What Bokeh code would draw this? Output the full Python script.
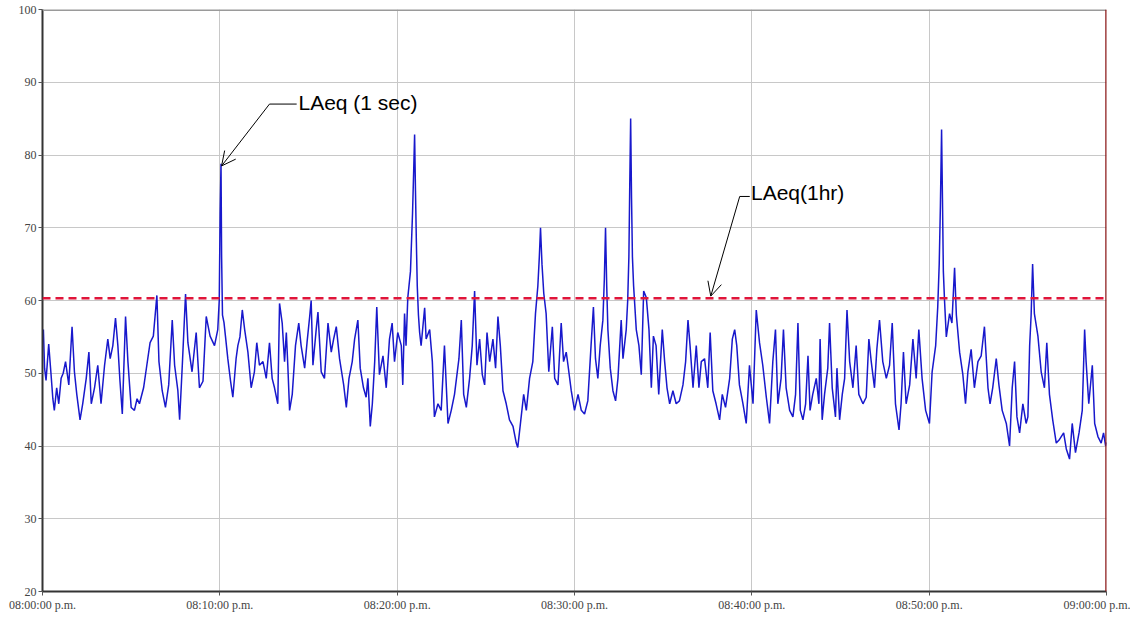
from bokeh.plotting import figure
from bokeh.models import Range1d, FixedTicker, Span, Arrow, OpenHead, Label
from bokeh.embed import file_html
from bokeh.resources import INLINE

# ---- data (seconds after 08:00:00 p.m., dB) ----
t_sec = [0, 3, 7, 12, 21, 29, 35, 40, 48, 55, 63, 70, 78, 89, 100, 108, 116, 127, 136, 148, 157, 165, 176, 187, 198, 210, 221, 229, 238, 247, 255, 262, 270, 281, 289, 300, 311, 320, 328, 342, 353, 364, 375, 387, 394, 405, 416, 427, 439, 447, 458, 464, 473, 484, 492, 506, 520, 531, 543, 554, 567, 582, 593, 598, 601, 604, 606, 609,
         614, 619, 627, 636, 644, 655, 661, 668, 676, 684, 695, 706, 717, 725, 734, 746, 757, 768, 777, 785, 796, 802, 811, 819, 825, 830, 836, 845, 856, 867, 875, 887, 895, 904, 909, 915, 926, 932, 943, 954, 966, 977, 985, 994, 1005, 1019, 1028, 1037, 1048, 1056, 1067, 1075, 1086, 1095, 1101, 1109, 1116, 1124, 1131, 1140, 1152, 1163, 1174, 1183, 1191, 1202, 1214, 1219, 1225, 1230, 1236, 1245, 1252, 1256, 1259, 1262, 1265, 1268, 1272, 1276,
         1281, 1293, 1298, 1310, 1319, 1326, 1338, 1349, 1360, 1372, 1383, 1394, 1409, 1417, 1425, 1434, 1445, 1454, 1462, 1470, 1479, 1488, 1496, 1504, 1513, 1524, 1533, 1541, 1549, 1558, 1569, 1580, 1592, 1603, 1608, 1616, 1628, 1637, 1648, 1659, 1668, 1676, 1681, 1685, 1690, 1696, 1704, 1713, 1725, 1733, 1744, 1755, 1763, 1772, 1778, 1789, 1800, 1812, 1823, 1834,
         1845, 1856, 1864, 1871, 1879, 1887, 1896, 1901, 1905, 1909, 1913, 1921, 1930, 1939, 1947, 1958, 1964, 1975, 1980, 1984, 1987, 1990, 1993, 1996, 2000, 2009, 2018, 2026, 2034, 2043, 2052, 2060, 2067, 2076, 2085, 2097, 2105, 2113, 2122, 2133, 2144, 2155, 2167, 2176, 2184, 2191, 2201, 2212, 2221, 2229, 2240, 2251, 2259, 2268, 2279, 2291, 2300, 2311, 2325, 2334, 2342, 2349, 2358, 2370, 2381, 2392, 2404, 2415,
         2426, 2437, 2449, 2460, 2471, 2480, 2488, 2499, 2507, 2516, 2528, 2539, 2548, 2556, 2564, 2573, 2582, 2590, 2597, 2606, 2618, 2627, 2631, 2638, 2646, 2657, 2663, 2672, 2683, 2688, 2697, 2706, 2714, 2722, 2731, 2742, 2753, 2762, 2776, 2787, 2796, 2804, 2815, 2823, 2832, 2843, 2855, 2866, 2875, 2886, 2898, 2905, 2913, 2922, 2934, 2945, 2956, 2965, 2976, 2988, 3001, 3010, 3022, 3029, 3034, 3038, 3042, 3045, 3048, 3052,
         3058, 3069, 3077, 3086, 3092, 3103, 3114, 3123, 3131, 3142, 3153, 3165, 3176, 3187, 3199, 3206, 3215, 3227, 3236, 3247, 3261, 3272, 3281, 3289, 3297, 3306, 3317, 3328, 3334, 3340, 3345, 3350, 3356, 3368, 3379, 3390, 3398, 3407, 3418, 3430, 3441, 3455, 3464, 3475, 3484, 3495, 3507, 3518, 3526, 3531, 3540, 3552, 3560, 3571, 3582, 3590, 3597, 3600]

laeq_1s = [55, 56, 50.7, 49, 54, 49.8, 46.5, 44.9, 48, 45.8, 49.3, 50, 51.6, 48.4, 56.4, 50.2, 47.1, 43.6, 45.8, 49.3, 52.9, 45.8, 48, 51.1, 45.8, 51.1, 54.7, 52, 53.8, 57.6, 53.8, 49, 44.4, 57.8, 51.6, 45.3, 44.9, 46.5, 45.8, 48, 51.1, 54.2, 55.1, 60.7, 51.6, 47.6, 45.3, 48.4, 57.3, 51.1, 47.6, 43.6, 51.1, 60.9, 54.2, 50.2, 55.6, 48, 48.9, 57.8, 55.1, 53.8, 56, 60, 72, 78.8, 66, 58,
           57, 55.1, 52, 49, 46.7, 52, 53.8, 55, 58.7, 56, 52.9, 48, 50.2, 54.2, 51.1, 51.6, 49.3, 54.2, 49.3, 48, 45.8, 59.6, 56.9, 51.6, 55.6, 51.1, 44.9, 47.1, 53.8, 56.9, 53.8, 50.7, 54.2, 57.8, 60, 51.1, 56, 58.4, 50.2, 49.3, 56.9, 52.9, 54.7, 56.4, 52, 48.4, 45.3, 49.3, 51.6, 54.7, 57.3, 50.7, 48, 46.7, 49.3, 42.7, 45.8, 51.6, 59.1, 49.8, 52.4, 48, 54.7, 56.9, 51.6, 55.6, 53.8, 48.4, 58.2, 53.8, 60.4, 64, 72, 78, 82.8, 75, 68, 62, 58, 55.6,
           53.8, 59, 54.7, 56, 51.6, 44, 45.8, 44.9, 53.8, 43.1, 44.9, 47.1, 52, 57.3, 47.1, 45.3, 49.3, 53.8, 61.3, 51.1, 54.7, 49.8, 48.4, 55.6, 51.6, 54.7, 50.7, 57.8, 53.8, 47.6, 45.8, 43.6, 42.7, 40.4, 39.8, 42.7, 47.1, 44.9, 49.3, 51.6, 58.2, 62, 66, 70, 65, 61, 58.2, 50.2, 56.4, 49.3, 48.4, 56.9, 51.6, 52.9, 51.1, 47.6, 44.9, 47.1, 44.9, 44.4,
           46.2, 53.8, 59.1, 52, 49.3, 53.8, 57.3, 63, 70, 62, 56, 50.7, 47.6, 46.2, 49.3, 57.3, 52, 56, 60, 66, 76, 85, 74, 66, 62, 56, 53.8, 49.8, 61.3, 60.4, 56, 48, 55.1, 53.8, 47.1, 56, 51.6, 48, 45.8, 47.6, 45.8, 46.2, 48.4, 51.6, 57.3, 53.8, 48, 53.8, 48, 51.6, 52, 48, 55.6, 47.6, 45.8, 43.6, 47.1, 45.3, 49.3, 54.7, 56, 53.8, 48.4, 45.8, 43.1, 51.1, 45.8, 58.7,
           54.2, 51.1, 46.7, 43.1, 51.6, 56, 45.8, 49.3, 56, 48, 44.9, 44, 47.1, 56.9, 44.9, 43.6, 45.8, 52.4, 44.9, 47.1, 49.3, 45.8, 54.7, 43.6, 47.1, 50.7, 56.9, 48, 44, 50.7, 43.6, 47.1, 49.3, 58.7, 51.6, 48, 53.8, 47.1, 45.8, 46.7, 54.7, 51.6, 48, 53.3, 57.3, 51.6, 49.3, 51.1, 56.9, 45.8, 42.2, 45.8, 52.9, 45.8, 48.4, 54.7, 49.3, 56, 49.3, 44.9, 43.1, 50.2, 53.8, 59.1, 65, 73, 83.5, 74, 64, 60,
           55, 58.2, 56.9, 64.5, 58, 52.9, 49.8, 45.8, 50.2, 53.3, 48, 51.6, 52.4, 56.4, 48, 45.8, 48, 52, 48.4, 44.9, 43.1, 40, 48, 51.6, 44, 41.8, 45.8, 43.1, 44, 53.8, 58, 65, 58.2, 55.1, 50.2, 48, 54.2, 47.1, 43.6, 40.4, 40.9, 41.8, 39.6, 38.2, 43.1, 39.1, 41.8, 44.9, 56, 51.6, 45.8, 51.1, 43.1, 41.3, 40.4, 41.8, 40, 40.5]

laeq_1hr = 60.3

x_ticks = [0, 600, 1200, 1800, 2400, 3000, 3600]
x_tick_labels = ["08:00:00 p.m.", "08:10:00 p.m.", "08:20:00 p.m.", "08:30:00 p.m.",
                 "08:40:00 p.m.", "08:50:00 p.m.", "09:00:00 p.m."]
y_ticks = [20, 30, 40, 50, 60, 70, 80, 90, 100]

# ---- figure ----
p = figure(width=1130, height=614, output_backend="svg", toolbar_location=None,
           x_range=Range1d(0, 3600), y_range=Range1d(20, 100))
p.min_border_left = 42
p.min_border_right = 24
p.min_border_top = 9
p.min_border_bottom = 22
p.outline_line_color = None
p.background_fill_color = "white"
p.border_fill_color = "white"

p.xaxis.ticker = FixedTicker(ticks=x_ticks)
p.xaxis.major_label_overrides = {t: l for t, l in zip(x_ticks, x_tick_labels)}
p.yaxis.ticker = FixedTicker(ticks=y_ticks)
for ax in (p.xaxis, p.yaxis):
    ax.axis_line_color = "#333333"
    ax.axis_line_width = 2
    ax.major_tick_line_color = "#555555"
    ax.major_tick_out = 4
    ax.major_tick_in = 0
    ax.minor_tick_line_color = None
    ax.major_label_text_font = "Liberation Sans Narrow"
    ax.major_label_text_font_size = "12px"
    ax.major_label_text_color = "#444444"
    ax.major_label_standoff = 2

p.xgrid.grid_line_color = "#c8c8c8"
p.ygrid.grid_line_color = "#c8c8c8"
p.xgrid.grid_line_width = 1
p.ygrid.grid_line_width = 1

# top border
p.add_layout(Span(location=100, dimension="width", line_color="#9a9a9a", line_width=3))

p.line(t_sec, laeq_1s, line_color="#1818cc", line_width=1.5)

p.add_layout(Span(location=laeq_1hr, dimension="width", line_color="#e0153a",
                  line_width=2.5, line_dash="8 5"))
# right cursor line
p.add_layout(Span(location=3600, dimension="height", line_color="#8b1a1a", line_width=2.5))

# annotations
p.segment(x0=[768, 2359], y0=[87, 74.3], x1=[860, 2393], y1=[87, 74.3],
          line_color="black", line_width=1)
p.add_layout(Arrow(end=OpenHead(size=14, line_width=1, line_color="black"),
                   x_start=768, y_start=87, x_end=606, y_end=78.5,
                   line_color="black", line_width=1))
p.add_layout(Arrow(end=OpenHead(size=14, line_width=1, line_color="black"),
                   x_start=2359, y_start=74.3, x_end=2261, y_end=60.6,
                   line_color="black", line_width=1))
p.add_layout(Label(x=866, y=87.2, text="LAeq (1 sec)", text_font="Liberation Sans",
                   text_font_size="21px", text_baseline="middle", text_color="black"))
p.add_layout(Label(x=2397, y=74.9, text="LAeq(1hr)", text_font="Liberation Sans",
                   text_font_size="21px", text_baseline="middle", text_color="black"))

open("out.html", "w").write(file_html(p, INLINE))
